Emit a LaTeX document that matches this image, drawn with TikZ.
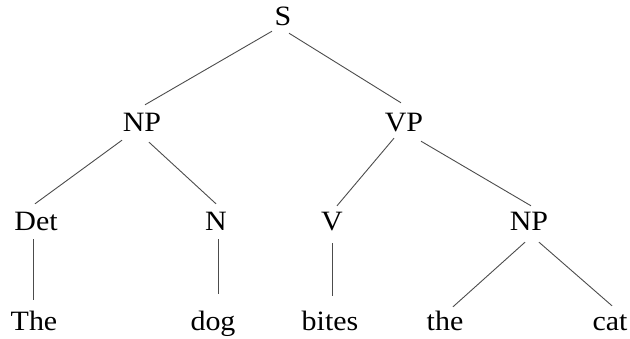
\documentclass[tikz,border=0pt]{standalone}
\usepackage{fontspec}
\setmainfont{Liberation Serif}[FakeStretch=1.07]

\begin{document}
\begin{tikzpicture}[x=1pt, y=-1pt,
  word/.style={inner sep=0, anchor=base, text height=27pt, text depth=8pt, font=\fontsize{28}{31}\selectfont},
  branch/.style={line width=0.9pt, black!70}]
\useasboundingbox (0,0) rectangle (630,339);
% categories
\node [word] (s) at (283,26) {S};
\node [word] (np1) at (142,132) {NP};
\node [word] (vp) at (404,132) {VP};
\node [word] (det) at (36,231) {Det};
\node [word] (n) at (216,231) {N};
\node [word] (v) at (332,231) {V};
\node [word] (np2) at (529,231) {NP};
% words
\node [word] (the1) at (34,331) {The};
\node [word] (dog) at (213,331) {dog};
\node [word] (bites) at (330,331) {bites};
\node [word] (the2) at (445,331) {the};
\node [word] (cat) at (610,331) {cat};
% branches
\draw [branch] ([xshift=-11pt, yshift=3pt]s.south) -- ([xshift=3pt]np1.north);
\draw [branch] ([xshift=6pt, yshift=1pt]s.south) -- ([xshift=-3pt, yshift=2pt]vp.north);
\draw [branch] ([xshift=-20pt]np1.south) -- ([xshift=-1pt]det.north);
\draw [branch] ([xshift=7pt, yshift=-2pt]np1.south) -- (n.north);
\draw [branch] ([xshift=-10pt, yshift=2pt]vp.south) -- ([xshift=5pt, yshift=-2pt]v.north);
\draw [branch] ([xshift=17pt, yshift=-1pt]vp.south) -- ([xshift=2pt, yshift=-2pt]np2.north);
\draw [branch] ([xshift=-3pt]det.south) -- ([xshift=-1pt, yshift=4pt]the1.north);
\draw [branch] ([xshift=2pt]n.south) -- ([xshift=5pt, yshift=10pt]dog.north);
\draw [branch] ([yshift=-4pt]v.south) -- ([xshift=2pt, yshift=8pt]bites.north);
\draw [branch] ([xshift=-4pt, yshift=-3pt]np2.south) -- ([xshift=8pt, yshift=-3pt]the2.north);
\draw [branch] ([xshift=10pt, yshift=-3pt]np2.south) -- ([xshift=2pt, yshift=-2pt]cat.north);
\end{tikzpicture}
\end{document}
